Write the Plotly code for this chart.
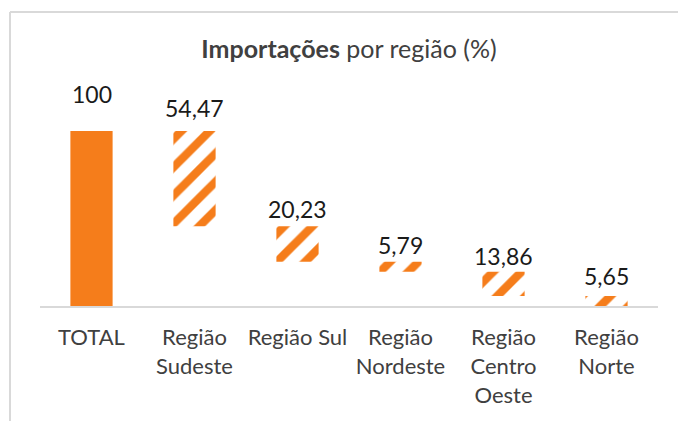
import plotly.graph_objects as go

# Regional shares of imports (%), waterfall from the total down to zero
categories = ["TOTAL", "Região<br>Sudeste", "Região Sul", "Região<br>Nordeste",
              "Região<br>Centro<br>Oeste", "Região<br>Norte"]
total_value = 100
region_values = [54.47, 20.23, 5.79, 13.86, 5.65]

# Pixel offsets of each value label above its bar top
label_offsets = [37, 23, 17, 17, 16, 20]

ORANGE = "#F57D1B"
W, H = 678, 421
ML, MR, MT, MB = 40, 20, 131, 115

values = [total_value] + region_values
bases = [0]
remaining = total_value
for v in region_values:
    remaining -= v
    bases.append(remaining)

def fmt(v):
    if float(v).is_integer():
        return str(int(v))
    return f"{v:.2f}".replace(".", ",")

fig = go.Figure()
fig.add_trace(go.Bar(
    x=categories,
    y=values,
    base=bases,
    width=0.41,
    marker=dict(
        color=ORANGE,
        line=dict(width=0),
        pattern=dict(
            shape=[""] + ["/"] * len(region_values),
            fgcolor=ORANGE,
            bgcolor="white",
            size=20,
            solidity=0.42,
            fillmode="replace",
        ),
    ),
    hoverinfo="skip",
))

for cat, b, v, off in zip(categories, bases, values, label_offsets):
    fig.add_annotation(
        x=cat, y=b + v, text=fmt(v), showarrow=False,
        yanchor="middle", yshift=off,
        font=dict(family="Lato", size=23, color="#1a1a1a"),
    )

# Chart frame (light grey border on top and left)
pw, ph = W - ML - MR, H - MT - MB
def px(xp):
    return (xp - ML) / pw
def py(yp):
    return (H - MB - yp) / ph
border = dict(color="#d9d9d9", width=2)
fig.add_shape(type="line", xref="paper", yref="paper",
              x0=px(10), x1=px(W + 5), y0=py(12), y1=py(12), line=border)
fig.add_shape(type="line", xref="paper", yref="paper",
              x0=px(10), x1=px(10), y0=py(12), y1=py(H + 5), line=border)

fig.update_layout(
    width=W, height=H,
    margin=dict(l=ML, r=MR, t=MT, b=MB),
    paper_bgcolor="white", plot_bgcolor="white",
    showlegend=False,
    bargap=0.59,
    title=dict(
        text="<b>Importações</b> por região (%)",
        x=0.5, xref="paper", xanchor="center",
        y=1 - 49 / H, yref="container", yanchor="middle",
        font=dict(family="Lato", size=25, color="#404040"),
    ),
    xaxis=dict(
        showline=True, linecolor="#d9d9d9", linewidth=2,
        showgrid=False, ticks="", zeroline=False,
        ticklabelstandoff=11,
        tickfont=dict(family="Lato", size=22, color="#404040"),
    ),
    yaxis=dict(range=[0, 100], visible=False, showgrid=False, zeroline=False),
)

fig.write_html("out.html")
